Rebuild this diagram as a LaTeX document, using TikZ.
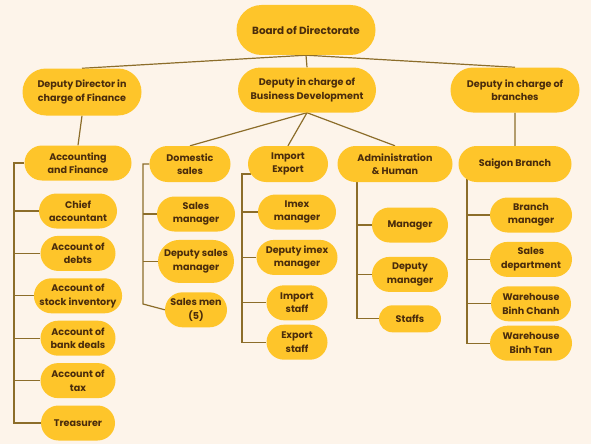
\documentclass[tikz,border=0pt]{standalone}
\usepackage{fontspec}
\setmainfont{Poppins}
\usetikzlibrary{shapes.misc, positioning, backgrounds}

\definecolor{bgcream}{HTML}{FDF4EA}
\definecolor{boxgold}{HTML}{FEC52A}
\definecolor{inkbrown}{HTML}{4A2C0C}
\definecolor{linkolive}{HTML}{8C6D2A}

\begin{document}
\begin{tikzpicture}[
    x=1pt, y=-1pt,
    unit/.style={rounded rectangle, fill=boxgold, text=inkbrown, font=\fontsize{9.6}{13.5}\selectfont\bfseries, align=center, inner xsep=1pt, inner ysep=1pt, minimum height=35pt},
    head/.style={unit, minimum height=45pt},
    link/.style={draw=linkolive, line width=1.2pt}
]
\useasboundingbox (0,0) rectangle (591,444);

% Nodes
\node (board) [head, minimum width=141pt, minimum height=50pt, font=\fontsize{10.4}{13}\selectfont\bfseries] at (306,30) {Board of Directorate};

\node (depfin) [head, minimum width=121pt, minimum height=47pt] at (82,92) {Deputy Director in\\charge of Finance};
\node (depbus) [head, minimum width=140pt] at (307,90) {Deputy in charge of\\Business Development};
\node (depbr) [head, minimum width=131pt] at (515,90) {Deputy in charge of\\branches};

\node (acc) [unit, minimum width=109pt] at (78,163) {Accounting\\and Finance};
\node (chief) [unit, minimum width=80pt] at (78,211) {Chief\\accountant};
\node (debts) [unit, minimum width=77pt, below=7pt of chief] {Account of\\debts};
\node (stock) [unit, minimum width=86pt, below=7pt of debts] {Account of\\stock inventory};
\node (bank) [unit, minimum width=77pt, below=7pt of stock] {Account of\\bank deals};
\node (tax) [unit, minimum width=77pt, below=7pt of bank] {Account of\\tax};
\node (treas) [unit, minimum width=76pt, below=7pt of tax] {Treasurer};

\node (dom) [unit, minimum width=83pt, minimum height=36pt] at (190,164) {Domestic\\sales};
\node (salesmgr) [unit, minimum width=80pt] at (196,214) {Sales\\manager};
\node (depsales) [unit, minimum width=78pt, minimum height=43pt, below=8pt of salesmgr] {Deputy sales\\manager};
\node (salesmen) [unit, minimum width=64pt, below=9pt of depsales] {Sales men\\(5)};

\node (imex) [unit, minimum width=82pt, minimum height=36pt] at (288,164) {Import\\Export};
\node (imexmgr) [unit, minimum width=80pt] at (297,212) {Imex\\manager};
\node (depimex) [unit, minimum width=83pt, below=10pt of imexmgr] {Deputy imex\\manager};
\node (impstaff) [unit, minimum width=63pt, below=10pt of depimex] {Import\\staff};
\node (expstaff) [unit, minimum width=63pt, below=4pt of impstaff] {Export\\staff};

\node (admin) [unit, minimum width=117pt, minimum height=36pt] at (395,164) {Administration\\\& Human};
\node (mgr) [unit, minimum width=78pt] at (410,225) {Manager};
\node (depmgr) [unit, minimum width=78pt, below=14pt of mgr] {Deputy\\manager};
\node (staffs) [unit, minimum width=64pt, minimum height=27pt, below=13pt of depmgr] {Staffs};

\node (saigon) [unit, minimum width=115pt, minimum height=36pt] at (515,164) {Saigon Branch};
\node (brmgr) [unit, minimum width=84pt] at (531,215) {Branch\\manager};
\node (salesdep) [unit, minimum width=84pt, below=9pt of brmgr] {Sales\\department};
\node (whchanh) [unit, minimum width=82pt, below=9pt of salesdep] {Warehouse\\Binh Chanh};
\node (whtan) [unit, minimum width=84pt, below=4pt of whchanh] {Warehouse\\Binh Tan};

% Spines
\coordinate (finspine) at (14,0);
\coordinate (domend) at (143,304);
\coordinate (imspine) at (242,0);
\coordinate (admspine) at (357,0);
\coordinate (brspine) at (467,0);

% Lines
\begin{pgfonlayer}{background}
\fill[bgcream] (0,0) rectangle (591,444);

\draw[link] (board.south) -- (depfin.north);
\draw[link] (board.south) -- (depbus.north);
\draw[link] (board.south) -- (depbr.north);

\draw[link] (depfin.south) -- (acc.north);
\draw[link] (depbus.south) -- (dom.north);
\draw[link] (depbus.south) -- (imex.north);
\draw[link] (depbus.south) -- (admin.north);
\draw[link] (depbr) -- (saigon);

\draw[link] (acc.west) -| (finspine |- treas.west) -- (treas.west);
\foreach \n in {chief,debts,stock,bank,tax}
    \draw[link] (\n.west) -- (finspine |- \n.west);

\draw[link] (dom.west) -| (domend) -- (salesmen.west);
\foreach \n in {salesmgr,depsales}
    \draw[link] (\n.west) -- (domend |- \n.west);

\draw[link] (imex.195) -| (imspine |- expstaff.west) -- (expstaff.west);
\foreach \n in {imexmgr,depimex,impstaff}
    \draw[link] (\n.west) -- (imspine |- \n.west);

\draw[link] (admin -| admspine) |- (staffs.west);
\foreach \n in {mgr,depmgr}
    \draw[link] (\n.west) -- (admspine |- \n.west);

\draw[link] (saigon -| brspine) |- (whtan.west);
\foreach \n in {brmgr,salesdep,whchanh}
    \draw[link] (\n.west) -- (brspine |- \n.west);
\end{pgfonlayer}

\end{tikzpicture}
\end{document}
